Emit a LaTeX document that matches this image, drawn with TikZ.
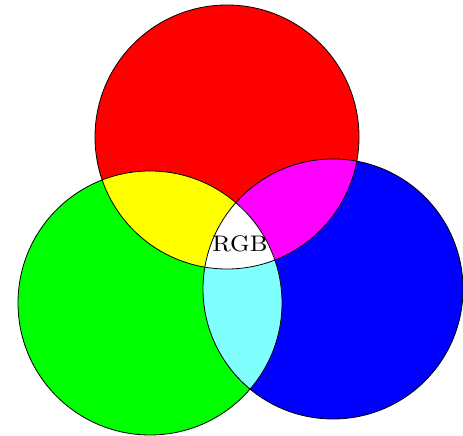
\documentclass[tikz,border=0pt]{standalone}
\usepackage{fontspec}
\newfontfamily\lmten{lmroman10-regular}[Extension=.otf]
\definecolor{cR}{RGB}{255,0,0}
\definecolor{cG}{RGB}{0,255,0}
\definecolor{cB}{RGB}{0,0,255}
\definecolor{cY}{RGB}{255,255,0}
\definecolor{cM}{RGB}{255,0,255}
\definecolor{cC}{RGB}{128,255,255}
\begin{document}
\begin{tikzpicture}[x=1pt,y=1pt,
  outline/.style={draw=black,line width=0.8pt},
  lbl/.style={inner sep=0pt,font=\lmten,xscale=2.5,yscale=2.25}]
\useasboundingbox (0,0) rectangle (463,436);
\fill[white] (0,0) rectangle (463,436);
\coordinate (R) at (227,299);
\coordinate (G) at (150,133);
\coordinate (B) at (333,147);
\def\rr{132}\def\rg{132}\def\rb{130}
% base fills
\fill[cR] (R) circle (\rr);
\fill[cG] (G) circle (\rg);
\fill[cB] (B) circle (\rb);
% pair intersections
\begin{scope}\clip (R) circle (\rr); \fill[cY] (G) circle (\rg); \end{scope}
\begin{scope}\clip (R) circle (\rr); \fill[cM] (B) circle (\rb); \end{scope}
\begin{scope}\clip (G) circle (\rg); \fill[cC] (B) circle (\rb); \end{scope}
% triple
\begin{scope}\clip (R) circle (\rr); \clip (G) circle (\rg); \fill[white] (B) circle (\rb); \end{scope}
% outlines
\draw[outline] (R) circle (\rr);
\draw[outline] (G) circle (\rg);
\draw[outline] (B) circle (\rb);
\node[lbl] (rgb) at (240,192) {RGB};
\end{tikzpicture}
\end{document}
